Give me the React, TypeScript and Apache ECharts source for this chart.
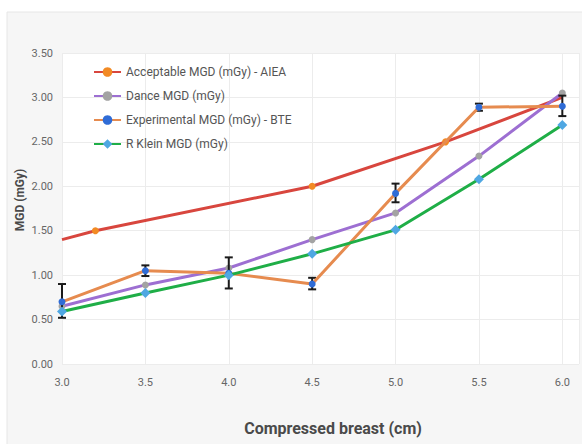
import React, { useEffect, useRef } from "react";
import * as echarts from "echarts";

const xTicks = [3.0, 3.5, 4.0, 4.5, 5.0, 5.5, 6.0];
const acceptableX = [3.0, 3.2, 4.5, 5.3, 6.0];
const acceptableY = [1.4, 1.5, 2.0, 2.5, 3.0];
const danceY = [0.65, 0.89, 1.08, 1.4, 1.7, 2.34, 3.05];
const experimentalY = [0.7, 1.05, 1.02, 0.9, 1.92, 2.89, 2.9];
const experimentalLow = [0.52, 0.99, 0.85, 0.84, 1.82, 2.85, 2.79];
const experimentalHigh = [0.9, 1.11, 1.2, 0.97, 2.03, 2.93, 3.02];
const kleinY = [0.59, 0.8, 1.0, 1.24, 1.51, 2.08, 2.69];

const names = [
  "Acceptable MGD (mGy) - AIEA",
  "Dance MGD (mGy)",
  "Experimental MGD (mGy) - BTE",
  "R Klein MGD (mGy)",
];

export default function App() {
  const ref = useRef<HTMLDivElement>(null);
  useEffect(() => {
    if (!ref.current) return;
    const chart = echarts.init(ref.current, null, { renderer: "svg" });
    const font = "Roboto, 'Liberation Sans', sans-serif";
    const pair = (ys: number[]) => xTicks.map((x, i) => [x, ys[i]]);
    chart.setOption({
      animation: false,
      backgroundColor: "#ffffff",
      textStyle: { fontFamily: font },
      graphic: [
        {
          type: "rect",
          shape: { x: 7, y: 12, width: 580, height: 440 },
          style: { fill: "#f6f6f6", stroke: "#e6e6e6", lineWidth: 1 },
          z: -10,
          silent: true,
        },
        {
          type: "text",
          x: 333,
          y: 428,
          style: {
            text: "Compressed breast (cm)",
            fontSize: 16,
            fontWeight: "bold",
            fill: "#4a4a4a",
            fontFamily: font,
            align: "center",
            verticalAlign: "middle",
          },
        },
        {
          type: "text",
          x: 20,
          y: 200,
          rotation: Math.PI / 2,
          style: {
            text: "MGD (mGy)",
            fontSize: 12,
            fontWeight: "bold",
            fill: "#4a4a4a",
            fontFamily: font,
            align: "center",
            verticalAlign: "middle",
          },
        },
      ],
      grid: {
        left: 62,
        right: 3,
        top: 53,
        bottom: 80,
        show: true,
        backgroundColor: "#ffffff",
        borderWidth: 0,
      },
      legend: {
        orient: "vertical",
        left: 88,
        top: 61,
        itemWidth: 27,
        itemHeight: 12,
        itemGap: 12,
        textStyle: { fontSize: 12, color: "#555555", fontFamily: font },
        data: names,
      },
      xAxis: {
        type: "value",
        min: 3.0,
        max: 6.1,
        interval: 0.5,
        axisLine: { show: false },
        axisTick: { show: false },
        axisLabel: {
          fontSize: 11,
          color: "#666666",
          margin: 13,
          showMaxLabel: false,
          formatter: (v: number) => v.toFixed(1),
        },
        splitLine: { show: true, lineStyle: { color: "#ececec", width: 1 } },
      },
      yAxis: {
        type: "value",
        min: 0,
        max: 3.5,
        interval: 0.5,
        axisLine: { show: false },
        axisTick: { show: false },
        axisLabel: {
          fontSize: 11,
          color: "#666666",
          margin: 9,
          formatter: (v: number) => v.toFixed(2),
        },
        splitLine: { show: true, lineStyle: { color: "#ececec", width: 1 } },
      },
      series: [
        {
          name: names[0],
          type: "line",
          data: acceptableX.map((x, i) => ({
            value: [x, acceptableY[i]],
            symbolSize: i === 0 || i === acceptableX.length - 1 ? 0 : 7,
          })),
          symbol: "circle",
          symbolSize: 7,
          lineStyle: { color: "#d8463e", width: 3 },
          itemStyle: { color: "#f28a24" },
          z: 2,
        },
        {
          name: names[1],
          type: "line",
          data: pair(danceY),
          symbol: "circle",
          symbolSize: 7,
          lineStyle: { color: "#9d6fd2", width: 3 },
          itemStyle: { color: "#a3a3a3" },
          z: 3,
        },
        {
          name: "err",
          type: "custom",
          data: xTicks.map((x, i) => [x, experimentalLow[i], experimentalHigh[i]]),
          renderItem: (params: any, api: any) => {
            const x = api.value(0);
            const lo = api.coord([x, api.value(1)]);
            const hi = api.coord([x, api.value(2)]);
            const w = 4;
            const st = { stroke: "#1a1a1a", lineWidth: 2 };
            return {
              type: "group",
              children: [
                { type: "line", shape: { x1: lo[0], y1: lo[1], x2: hi[0], y2: hi[1] }, style: st },
                { type: "line", shape: { x1: lo[0] - w, y1: lo[1], x2: lo[0] + w, y2: lo[1] }, style: st },
                { type: "line", shape: { x1: hi[0] - w, y1: hi[1], x2: hi[0] + w, y2: hi[1] }, style: st },
              ],
            };
          },
          z: 4,
          silent: true,
        },
        {
          name: names[2],
          type: "line",
          data: pair(experimentalY),
          symbol: "circle",
          symbolSize: 7,
          lineStyle: { color: "#e68b4f", width: 3 },
          itemStyle: { color: "#2f6cd6" },
          z: 5,
        },
        {
          name: names[3],
          type: "line",
          data: pair(kleinY),
          symbol: "diamond",
          symbolSize: 10,
          lineStyle: { color: "#1fae47", width: 3 },
          itemStyle: { color: "#4fa7e2" },
          z: 6,
        },
      ],
    });
    return () => chart.dispose();
  }, []);
  return (
    <div
      ref={ref}
      style={{ position: "fixed", left: 0, top: 0, width: 582, height: 444 }}
    />
  );
}
